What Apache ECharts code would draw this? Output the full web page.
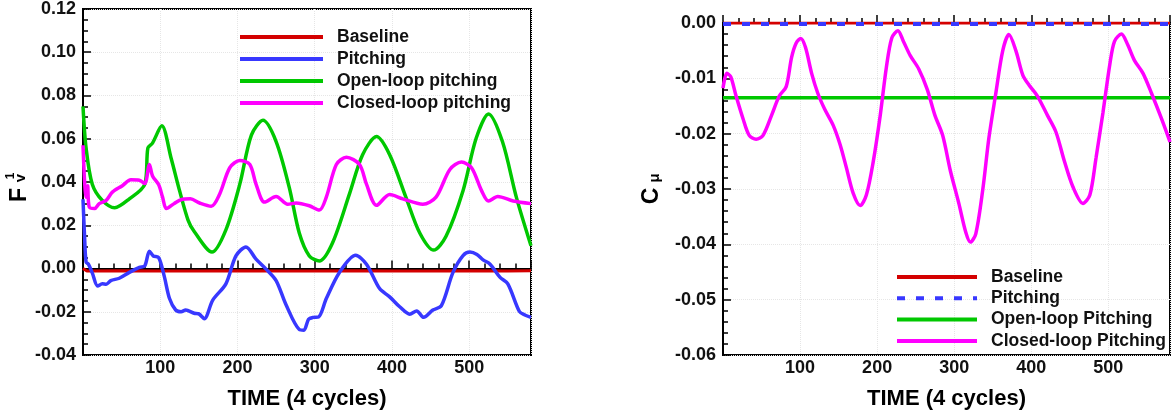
<!DOCTYPE html>
<html>
<head>
<meta charset="utf-8">
<script src="https://cdn.jsdelivr.net/npm/echarts@6/dist/echarts.min.js"></script>
<style>
  html, body { margin: 0; padding: 0; background: #fff; }
  #main { width: 1175px; height: 415px; }
</style>
</head>
<body>
<div id="main"></div>
<script>
// left panel: F_v^1 vs time
const baseT = [0, 5, 50, 100, 150, 200, 250, 300, 350, 400, 450, 500, 550, 580];
const baseV = [0.0, -0.0012, -0.001, -0.0011, -0.0012, -0.001, -0.0011, -0.0012, -0.001, -0.0011, -0.0012, -0.001, -0.0011, -0.001];

const pitchT = [0, 2, 4, 7, 12, 19, 25, 30, 36, 47, 60, 73, 80, 86, 91, 98, 105, 112, 120, 127, 133, 144, 150, 157, 168, 185, 198, 211, 224, 237, 250, 263, 280, 286, 292, 298, 305, 315, 332, 353, 367, 384, 397, 410, 423, 432, 441, 453, 464, 479, 492, 501, 510, 518, 527, 540, 550, 565, 572, 580];
const pitchV = [0.032, 0.015, 0.003, 0.002, -0.002, -0.0081, -0.0071, -0.0073, -0.0056, -0.0045, -0.0018, 0.0005, 0.0012, 0.008, 0.0058, 0.005, -0.0033, -0.0139, -0.0192, -0.020, -0.0192, -0.0207, -0.021, -0.0232, -0.0146, -0.0071, 0.0058, 0.010, 0.0043, -0.0003, -0.0056, -0.0169, -0.0282, -0.0285, -0.0235, -0.0226, -0.0224, -0.0139, -0.0018, 0.0061, 0.002, -0.0093, -0.0131, -0.0177, -0.0211, -0.0196, -0.0226, -0.0192, -0.0172, -0.0018, 0.006, 0.0076, 0.0065, 0.004, 0.002, -0.0041, -0.0071, -0.0199, -0.0215, -0.0226];

const openT = [0, 4, 12, 25, 41, 60, 80, 84, 90, 102, 114, 125, 136, 144, 167, 185, 203, 218, 233, 250, 267, 280, 293, 306, 323, 345, 362, 380, 397, 418, 436, 454, 470, 492, 509, 525, 543, 561, 580];
const openV = [0.075, 0.0557, 0.039, 0.0315, 0.0281, 0.0322, 0.039, 0.0557, 0.058, 0.066, 0.0511, 0.036, 0.0224, 0.0171, 0.0076, 0.0179, 0.039, 0.0617, 0.0685, 0.0587, 0.0375, 0.0164, 0.0058, 0.0035, 0.0118, 0.0345, 0.0526, 0.061, 0.0526, 0.033, 0.0164, 0.0085, 0.0149, 0.036, 0.0602, 0.0715, 0.0587, 0.033, 0.0105];

const closedT = [0, 2, 4, 6, 8, 15, 21, 30, 38, 51, 62, 73, 80, 86, 90, 98, 103, 108, 118, 127, 139, 151, 166, 177, 190, 203, 216, 224, 235, 250, 265, 276, 293, 306, 315, 328, 341, 358, 367, 380, 397, 414, 440, 457, 475, 490, 503, 516, 525, 537, 557, 580];
const closedV = [0.057, 0.0406, 0.033, 0.0383, 0.0285, 0.0277, 0.030, 0.0315, 0.0353, 0.0383, 0.041, 0.0408, 0.0393, 0.0481, 0.0428, 0.0387, 0.033, 0.0277, 0.030, 0.0318, 0.0322, 0.0303, 0.0288, 0.0345, 0.0466, 0.0499, 0.0481, 0.039, 0.0307, 0.0333, 0.0297, 0.0303, 0.029, 0.027, 0.033, 0.0481, 0.0514, 0.0481, 0.039, 0.0292, 0.0342, 0.0322, 0.0297, 0.033, 0.0458, 0.0492, 0.0466, 0.036, 0.0312, 0.0333, 0.0312, 0.030];

// right panel: C_mu vs time
const cmuBaseT = [0, 580];
const cmuBaseV = [0, 0];
const cmuPitchT = [0, 580];
const cmuPitchV = [-0.0002, -0.0002];
const cmuOpenT = [0, 580];
const cmuOpenV = [-0.0135, -0.0135];
const cmuClosedT = [0, 5, 10, 17, 26, 34, 43, 52, 63, 73, 82, 89, 95, 101, 107, 115, 123, 132, 143, 152, 160, 169, 178, 186, 195, 204, 212, 219, 227, 234, 243, 254, 265, 275, 285, 295, 306, 315, 321, 328, 337, 345, 354, 363, 371, 380, 389, 397, 408, 421, 432, 443, 454, 467, 476, 484, 493, 502, 508, 517, 525, 534, 545, 556, 569, 580];
const cmuClosedV = [-0.0118, -0.0091, -0.0097, -0.0132, -0.0173, -0.0203, -0.021, -0.0203, -0.0167, -0.0132, -0.0115, -0.0062, -0.0036, -0.0028, -0.0044, -0.0091, -0.0127, -0.0156, -0.0185, -0.022, -0.0261, -0.0308, -0.033, -0.0311, -0.025, -0.0167, -0.008, -0.0027, -0.0014, -0.0033, -0.0059, -0.0083, -0.012, -0.0167, -0.0203, -0.0267, -0.0326, -0.0378, -0.0396, -0.0381, -0.0302, -0.0208, -0.0127, -0.005, -0.0021, -0.005, -0.0094, -0.0112, -0.0132, -0.0167, -0.0197, -0.025, -0.0296, -0.0326, -0.0311, -0.0244, -0.0162, -0.0074, -0.0033, -0.002, -0.0039, -0.0068, -0.0091, -0.0127, -0.0173, -0.0215];

const RED = '#d40000', BLUE = '#3838ff', GREEN = '#00c800', MAGENTA = '#ff00ff';
const FONT = 'Liberation Sans, Arial, sans-serif';

function zip(t, v) {
  return t.map((x, i) => [x, v[i]]);
}

function xAxis(gi) {
  return {
    type: 'value', gridIndex: gi, min: 0, max: 580, interval: 100,
    name: 'TIME (4 cycles)', nameLocation: 'middle', nameGap: 33,
    nameTextStyle: { fontFamily: FONT, fontWeight: 'bold', fontSize: 22, color: '#000' },
    axisLine: { lineStyle: { color: '#000', width: 2 } },
    axisTick: { inside: true, length: 8, lineStyle: { color: '#000', width: 1.5 } },
    minorTick: { show: true, splitNumber: 5, length: 5, lineStyle: { color: '#000', width: 1.5 } },
    axisLabel: { showMinLabel: false, showMaxLabel: false, margin: 4, fontFamily: FONT, fontWeight: 'bold', fontSize: 18, color: '#111' },
    splitLine: { show: true, lineStyle: { color: '#e6e6e6', type: 'dotted', width: 1 } }
  };
}

function yAxis(gi, min, max, step, minor) {
  return {
    type: 'value', gridIndex: gi, min: min, max: max, interval: step,
    axisLine: { show: true, lineStyle: { color: '#000', width: 2 } },
    axisTick: { show: true, inside: true, length: 8, lineStyle: { color: '#000', width: 1.5 } },
    minorTick: { show: true, splitNumber: minor, length: 5, lineStyle: { color: '#000', width: 1.5 } },
    axisLabel: { margin: 7, fontFamily: FONT, fontWeight: 'bold', fontSize: 18, color: '#111',
      formatter: v => v.toFixed(2) },
    splitLine: { show: true, lineStyle: { color: '#e6e6e6', type: 'dotted', width: 1 } }
  };
}

function line(name, gi, t, v, color, width, extra) {
  return Object.assign({
    name: name, type: 'line', xAxisIndex: gi, yAxisIndex: gi,
    data: zip(t, v), symbol: 'none', smooth: 0.3, animation: false,
    lineStyle: { color: color, width: width }, itemStyle: { color: color }
  }, extra || {});
}

const legendText = { fontFamily: FONT, fontWeight: 'bold', fontSize: 17.5, lineHeight: 14, color: '#111', padding: [0, 0, 0, 9] };

let myChart = echarts.init(document.getElementById('main'));
let option = {
  backgroundColor: '#fff',
  animation: false,
  grid: [
    { left: 83, top: 8, right: 644, bottom: 54, show: true, borderColor: '#000', borderWidth: 2 },
    { left: 723, top: 23, right: 5, bottom: 51, show: true, borderColor: '#000', borderWidth: 2 }
  ],
  xAxis: [xAxis(0), xAxis(1)],
  yAxis: [yAxis(0, -0.04, 0.12, 0.02, 4), yAxis(1, -0.06, 0, 0.01, 5)],
  legend: [
    {
      orient: 'vertical', left: 238, top: 28, padding: 0, itemWidth: 83, itemHeight: 14, itemGap: 4,
      itemStyle: { opacity: 0 }, lineStyle: { width: 4 },
      data: ['Baseline', 'Pitching', 'Open-loop pitching', 'Closed-loop pitching'],
      textStyle: legendText
    },
    {
      orient: 'vertical', left: 895, top: 268, padding: 0, itemWidth: 80, itemHeight: 14, itemGap: 3.3,
      itemStyle: { opacity: 0 }, lineStyle: { width: 4 },
      data: ['Baseline ', 'Pitching ', 'Open-loop Pitching', 'Closed-loop Pitching'],
      textStyle: legendText
    }
  ],
  graphic: [
    { type: 'text', x: 20, y: 195, rotation: Math.PI / 2,
      style: { text: 'F', font: 'bold 23px ' + FONT, fill: '#000', align: 'center', verticalAlign: 'middle' } },
    { type: 'text', x: 11, y: 176, rotation: Math.PI / 2,
      style: { text: '1', font: 'bold 12px ' + FONT, fill: '#000', align: 'center', verticalAlign: 'middle' } },
    { type: 'text', x: 21, y: 178, rotation: Math.PI / 2,
      style: { text: 'v', font: 'bold 15px ' + FONT, fill: '#000', align: 'center', verticalAlign: 'middle' } },
    { type: 'text', x: 652, y: 196, rotation: Math.PI / 2,
      style: { text: 'C', font: 'bold 23px ' + FONT, fill: '#000', align: 'center', verticalAlign: 'middle' } },
    { type: 'text', x: 655, y: 178, rotation: Math.PI / 2,
      style: { text: 'μ', font: 'bold 15px ' + FONT, fill: '#000', align: 'center', verticalAlign: 'middle' } }
  ],
  series: [
    line('Baseline', 0, baseT, baseV, RED, 3, { smooth: false }),
    line('Pitching', 0, pitchT, pitchV, BLUE, 3.5),
    line('Open-loop pitching', 0, openT, openV, GREEN, 3.5),
    line('Closed-loop pitching', 0, closedT, closedV, MAGENTA, 3.5),
    line('Baseline ', 1, cmuBaseT, cmuBaseV, RED, 3, { smooth: false }),
    line('Pitching ', 1, cmuPitchT, cmuPitchV, BLUE, 4, { smooth: false, lineStyle: { color: BLUE, width: 4, type: [8, 11] } }),
    line('Open-loop Pitching', 1, cmuOpenT, cmuOpenV, GREEN, 3.5, { smooth: false }),
    line('Closed-loop Pitching', 1, cmuClosedT, cmuClosedV, MAGENTA, 3.5)
  ]
};
myChart.setOption(option);
</script>
</body>
</html>
